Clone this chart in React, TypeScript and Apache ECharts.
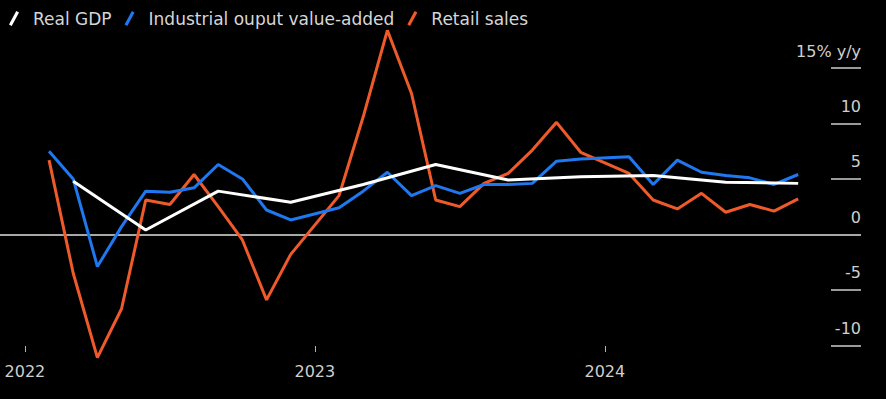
import React, { useEffect, useRef } from "react";
import * as echarts from "echarts";

const months = [
  "2022-01","2022-02","2022-03","2022-04","2022-05","2022-06","2022-07","2022-08","2022-09","2022-10","2022-11","2022-12",
  "2023-01","2023-02","2023-03","2023-04","2023-05","2023-06","2023-07","2023-08","2023-09","2023-10","2023-11","2023-12",
  "2024-01","2024-02","2024-03","2024-04","2024-05","2024-06","2024-07","2024-08","2024-09",
];

const realGdp = [
  null, null, 4.8, null, null, 0.4, null, null, 3.9, null, null, 2.9,
  null, null, 4.5, null, null, 6.3, null, null, 4.9, null, null, 5.2,
  null, null, 5.3, null, null, 4.7, null, null, 4.6,
];

const industrialOutput = [
  null, 7.5, 5.0, -2.9, 0.7, 3.9, 3.8, 4.2, 6.3, 5.0, 2.2, 1.3,
  null, 2.4, 3.9, 5.6, 3.5, 4.4, 3.7, 4.5, 4.5, 4.6, 6.6, 6.8,
  null, 7.0, 4.5, 6.7, 5.6, 5.3, 5.1, 4.5, 5.4,
];

const retailSales = [
  null, 6.7, -3.5, -11.1, -6.7, 3.1, 2.7, 5.4, 2.5, -0.5, -5.9, -1.8,
  null, 3.5, 10.6, 18.4, 12.7, 3.1, 2.5, 4.6, 5.5, 7.6, 10.1, 7.4,
  null, 5.5, 3.1, 2.3, 3.7, 2.0, 2.7, 2.1, 3.2,
];

const yearTicks = [0, 12, 24];
const yearLabels = ["2022", "2023", "2024"];
const yTicks = [-10, -5, 0, 5, 10, 15];

const toPoints = (vals: (number | null)[]) =>
  vals
    .map((v, i) => (v === null ? null : [i, v]))
    .filter((p) => p !== null) as number[][];

const FONT = "DejaVu Sans";
const slash = "path://M0,15 L8,0 L11,1.6 L3,16.6 Z";

export default function App() {
  const ref = useRef<HTMLDivElement>(null);
  useEffect(() => {
    if (!ref.current) return;
    const chart = echarts.init(ref.current, undefined, { renderer: "svg" });
    chart.setOption({
      animation: false,
      backgroundColor: "#000000",
      legend: {
        left: 4,
        top: 5,
        itemWidth: 10,
        itemHeight: 16,
        itemGap: 13,
        textStyle: { color: "#d6d6d6", fontFamily: FONT, fontSize: 17, padding: [0, 0, 0, 9] },
        data: [
          { name: "Real GDP", icon: slash, itemStyle: { color: "#ffffff" } },
          { name: "Industrial ouput value-added", icon: slash, itemStyle: { color: "#1f78f0" } },
          { name: "Retail sales", icon: slash, itemStyle: { color: "#ef5a2a" } },
        ],
      },
      grid: { left: 0, right: 25, top: 68, bottom: 47 },
      xAxis: {
        type: "value",
        min: -1.03,
        max: 34.6,
        axisLine: { show: false, onZero: false },
        splitLine: { show: false },
        axisTick: {
          show: true,
          inside: true,
          length: 6,
          customValues: yearTicks,
          lineStyle: { color: "#b0b0b0", width: 1 },
        },
        axisLabel: {
          customValues: yearTicks,
          margin: 11,
          color: "#cfcfcf",
          fontFamily: FONT,
          fontSize: 16,
          formatter: (v: number) => yearLabels[yearTicks.indexOf(Math.round(v))] ?? "",
        },
      },
      yAxis: {
        type: "value",
        position: "right",
        min: -10.6,
        max: 15,
        axisLine: { show: false, onZero: false },
        splitLine: { show: false },
        axisTick: {
          show: true,
          inside: true,
          length: 30,
          customValues: yTicks,
          lineStyle: { color: "#9a9a9a", width: 2 },
        },
        axisLabel: {
          inside: true,
          customValues: yTicks,
          margin: 0,
          align: "right",
          verticalAlign: "bottom",
          lineHeight: 16,
          padding: [0, 0, 9, 0],
          color: "#cfcfcf",
          fontFamily: FONT,
          fontSize: 16,
          formatter: (v: number) => (v === 15 ? "15% y/y" : String(v)),
        },
      },
      series: [
        {
          name: "Retail sales",
          type: "line",
          data: toPoints(retailSales),
          showSymbol: false,
          symbol: "none",
          clip: false,
          z: 2,
          lineStyle: { color: "#ef5a2a", width: 3 },
          itemStyle: { color: "#ef5a2a" },
          markLine: {
            silent: true,
            symbol: "none",
            label: { show: false },
            z: 1,
            lineStyle: { color: "#a8a8a8", width: 2, type: "solid" },
            data: [{ yAxis: 0 }],
          },
        },
        {
          name: "Industrial ouput value-added",
          type: "line",
          data: toPoints(industrialOutput),
          showSymbol: false,
          symbol: "none",
          clip: false,
          z: 3,
          lineStyle: { color: "#1f78f0", width: 3 },
          itemStyle: { color: "#1f78f0" },
        },
        {
          name: "Real GDP",
          type: "line",
          data: toPoints(realGdp),
          showSymbol: false,
          symbol: "none",
          clip: false,
          z: 4,
          lineStyle: { color: "#ffffff", width: 3 },
          itemStyle: { color: "#ffffff" },
        },
      ],
    });
    return () => chart.dispose();
  }, []);
  return <div ref={ref} style={{ width: 886, height: 399, position: "fixed", left: 0, top: 0 }} />;
}
